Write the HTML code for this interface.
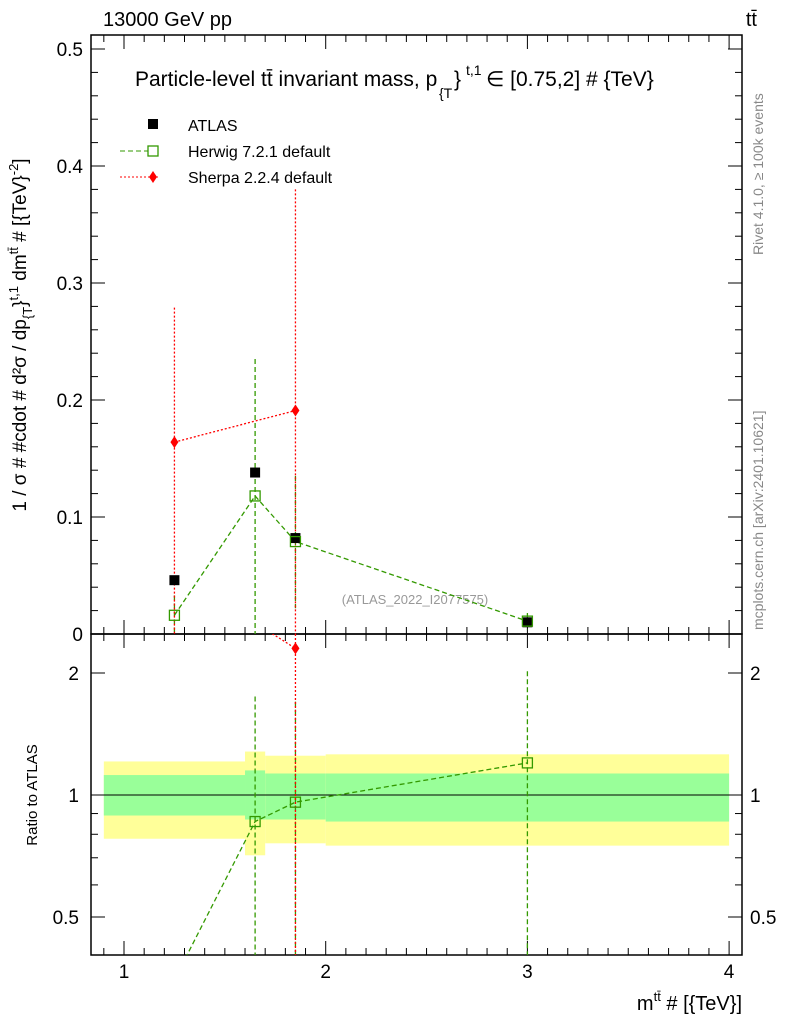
<!DOCTYPE html>
<html><head><meta charset="utf-8"><style>
html,body{margin:0;padding:0;background:#fff;}
svg{display:block;font-family:"Liberation Sans",sans-serif;}
</style></head><body>
<svg id="c" width="786" height="1024" viewBox="0 0 786 1024" xmlns="http://www.w3.org/2000/svg">
<text x="103" y="26" font-size="20">13000 GeV pp</text>
<text x="757" y="26" font-size="20" text-anchor="end">tt̄</text>
<g>
<text x="135" y="86" font-size="21">Particle-level tt̄ invariant mass, p</text>
<text x="439" y="98" font-size="14">{T</text>
<text x="454" y="86" font-size="21">}</text>
<text x="466" y="75" font-size="14">t,1</text>
<text x="486" y="86" font-size="21">∈ [0.75,2] # {TeV}</text>
</g>
<text x="0" y="0" font-size="14" fill="#888" transform="translate(763,255) rotate(-90)">Rivet 4.1.0, ≥ 100k events</text>
<text x="0" y="0" font-size="14" fill="#888" transform="translate(763,630) rotate(-90)">mcplots.cern.ch [arXiv:2401.10621]</text>
<text x="415" y="604" font-size="13" fill="#999" text-anchor="middle">(ATLAS_2022_I2077575)</text>
<text x="0" y="0" font-size="19" text-anchor="middle" transform="translate(26,335) rotate(-90)">1 / σ # #cdot # d²σ / dp<tspan font-size="13" dy="6">{T</tspan><tspan dy="-6">}</tspan><tspan font-size="13" dy="-8">t,1</tspan><tspan dy="8"> dm</tspan><tspan font-size="13" dy="-8">tt̄</tspan><tspan dy="8"> # [{TeV}</tspan><tspan font-size="13" dy="-8">-2</tspan><tspan dy="8">]</tspan></text>
<text x="0" y="0" font-size="15" text-anchor="middle" transform="translate(37,795) rotate(-90)">Ratio to ATLAS</text>
<text x="742" y="1010" font-size="20" text-anchor="end">m<tspan font-size="13" dy="-9">tt̄</tspan><tspan dy="9"> # [{TeV}]</tspan></text>
<g id="g"></g>
</svg>
<script>
const binEdges=[0.9,1.6,1.7,2.0,4.0];
const bandYellowHi=[1.21,1.28,1.25,1.26];
const bandYellowLo=[0.78,0.71,0.76,0.75];
const bandGreenHi=[1.12,1.15,1.13,1.13];
const bandGreenLo=[0.89,0.87,0.87,0.86];
const xVals=[1.25,1.65,1.85,3.0];
const atlas=[0.046,0.138,0.082,0.010];
const herwig=[0.016,0.118,0.079,0.011];
const herwigUp=[0.033,0.235,0.135,0.018];
const herwigDn=[0.0,0.0,0.022,0.004];
const sherpaX=[1.25,1.85];
const sherpa=[0.164,0.191];
const sherpaUp=[0.279,0.38];
const sherpaDn=[0.0,0.0];
const herwigRatio=[0.35,0.86,0.96,1.2];
const herwigRatioUp=[0.35,1.75,1.7,2.02];
const herwigRatioDn=[0.35,0.1,0.1,0.1];
const sherpaRatio=[3.56,2.3];
const sherpaRatioUp=[3.56,6];
const sherpaRatioDn=[3.56,0.1];
const yTicks=[0,0.1,0.2,0.3,0.4,0.5];
const yTickLabels=["0","0.1","0.2","0.3","0.4","0.5"];
const rTicks=[0.5,1,2];
const rTickLabels=["0.5","1","2"];
const xTicks=[1,2,3,4];

const L=91,R=742,T=35,M=634,B=955;
const X=v=>124+(v-1)*201.7;
const Y=v=>634-v*1170;
const RY=r=>795-122*Math.log2(r);
const g=document.getElementById('g');
const NS='http://www.w3.org/2000/svg';
function mk(tag,at,par){const e=document.createElementNS(NS,tag);for(const k in at)e.setAttribute(k,at[k]);(par||g).appendChild(e);return e;}
const cy=v=>Math.max(T,Math.min(M,v));
const cr=v=>Math.max(M,Math.min(B,v));

for(let i=0;i<4;i++){
 let e=mk('rect',{x:X(binEdges[i]),y:RY(bandYellowHi[i]),width:X(binEdges[i+1])-X(binEdges[i]),height:RY(bandYellowLo[i])-RY(bandYellowHi[i]),fill:'#ffff99'});
 
 
 e=mk('rect',{x:X(binEdges[i]),y:RY(bandGreenHi[i]),width:X(binEdges[i+1])-X(binEdges[i]),height:RY(bandGreenLo[i])-RY(bandGreenHi[i]),fill:'#99ff99'});
 
 
}
mk('line',{x1:L,x2:R,y1:RY(1),y2:RY(1),stroke:'#000','stroke-width':1});

let f=mk('rect',{x:L,y:T,width:R-L,height:M-T,fill:'none',stroke:'#000','stroke-width':1.5});


f=mk('rect',{x:L,y:M,width:R-L,height:B-M,fill:'none',stroke:'#000','stroke-width':1.5});



yTicks.forEach((v,i)=>{
 mk('line',{x1:L,x2:L+14,y1:Y(v),y2:Y(v),stroke:'#000'});
 mk('line',{x1:R,x2:R-14,y1:Y(v),y2:Y(v),stroke:'#000'});
 const t=mk('text',{x:L-8,y:Y(v)+7,'font-size':19,'text-anchor':'end'});t.textContent=yTickLabels[i];
 
 
});
for(let v=0.02;v<0.51;v+=0.02){if(Math.abs(v*10-Math.round(v*10))<1e-6)continue;
 mk('line',{x1:L,x2:L+7,y1:Y(v),y2:Y(v),stroke:'#000'});mk('line',{x1:R,x2:R-7,y1:Y(v),y2:Y(v),stroke:'#000'});}
rTicks.forEach((v,i)=>{
 mk('line',{x1:L,x2:L+14,y1:RY(v),y2:RY(v),stroke:'#000'});
 mk('line',{x1:R,x2:R-14,y1:RY(v),y2:RY(v),stroke:'#000'});
 let t=mk('text',{x:L-12,y:RY(v)+7,'font-size':19,'text-anchor':'end'});t.textContent=rTickLabels[i];
 
 
 t=mk('text',{x:R+8,y:RY(v)+7,'font-size':19});t.textContent=rTickLabels[i];
 
 
});
[0.6,0.7,0.8,0.9].forEach(v=>{mk('line',{x1:L,x2:L+7,y1:RY(v),y2:RY(v),stroke:'#000'});mk('line',{x1:R,x2:R-7,y1:RY(v),y2:RY(v),stroke:'#000'});});
for(let v=0.9;v<4.06;v+=0.1){const maj=Math.abs(v-Math.round(v))<1e-6;const len=maj?14:7;
 [T,M].forEach(y0=>mk('line',{x1:X(v),x2:X(v),y1:y0,y2:y0+len,stroke:'#000'}));
 [M,B].forEach(y0=>mk('line',{x1:X(v),x2:X(v),y1:y0,y2:y0-len,stroke:'#000'}));}
xTicks.forEach(v=>{const t=mk('text',{x:X(v),y:978,'font-size':19,'text-anchor':'middle'});t.textContent=String(v);
 
 });

mk('polyline',{points:xVals.map((x,i)=>X(x)+','+Y(herwig[i])).join(' '),fill:'none',stroke:'#339900','stroke-dasharray':'5,3','stroke-width':1.3});
xVals.forEach((x,i)=>{mk('line',{x1:X(x),x2:X(x),y1:cy(Y(herwigUp[i])),y2:cy(Y(herwigDn[i])),stroke:'#339900','stroke-dasharray':'5,3','stroke-width':1.3});});
mk('polyline',{points:sherpaX.map((x,i)=>X(x)+','+Y(sherpa[i])).join(' '),fill:'none',stroke:'#ff0000','stroke-dasharray':'2,2','stroke-width':1.3});
sherpaX.forEach((x,i)=>{mk('line',{x1:X(x),x2:X(x),y1:cy(Y(sherpaUp[i])),y2:cy(Y(sherpaDn[i])),stroke:'#ff0000','stroke-dasharray':'2,2','stroke-width':1.3});});
xVals.forEach((x,i)=>{const e=mk('rect',{x:X(x)-5,y:Y(atlas[i])-5,width:10,height:10,fill:'#000'});
 
 });
xVals.forEach((x,i)=>{const e=mk('rect',{x:X(x)-5,y:Y(herwig[i])-5,width:10,height:10,fill:'none',stroke:'#339900','stroke-width':1.3});
 
 });
sherpaX.forEach((x,i)=>{const cx=X(x),c=Y(sherpa[i]);const e=mk('polygon',{points:`${cx},${c-6} ${cx+4},${c} ${cx},${c+6} ${cx-4},${c}`,fill:'#ff0000'});
 
 });

const cp=mk('clipPath',{id:'rc'});mk('rect',{x:L,y:M,width:R-L,height:B-M},cp);
const rg=mk('g',{'clip-path':'url(#rc)'});
mk('polyline',{points:xVals.map((x,i)=>X(x)+','+RY(herwigRatio[i])).join(' '),fill:'none',stroke:'#339900','stroke-dasharray':'5,3','stroke-width':1.3},rg);
xVals.forEach((x,i)=>{if(herwigRatioUp[i]===herwigRatioDn[i])return;mk('line',{x1:X(x),x2:X(x),y1:cr(RY(herwigRatioUp[i])),y2:cr(RY(herwigRatioDn[i])),stroke:'#339900','stroke-dasharray':'5,3','stroke-width':1.3},rg);});
mk('polyline',{points:sherpaX.map((x,i)=>X(x)+','+RY(sherpaRatio[i])).join(' '),fill:'none',stroke:'#ff0000','stroke-dasharray':'2,2','stroke-width':1.3},rg);
sherpaX.forEach((x,i)=>{if(sherpaRatioUp[i]===sherpaRatioDn[i])return;mk('line',{x1:X(x),x2:X(x),y1:cr(RY(sherpaRatioUp[i])),y2:cr(RY(sherpaRatioDn[i])),stroke:'#ff0000','stroke-dasharray':'2,2','stroke-width':1.3},rg);});
xVals.forEach((x,i)=>{const e=mk('rect',{x:X(x)-5,y:RY(herwigRatio[i])-5,width:10,height:10,fill:'none',stroke:'#339900','stroke-width':1.3},rg);
 
 });
sherpaX.forEach((x,i)=>{const cx=X(x),c=RY(sherpaRatio[i]);const e=mk('polygon',{points:`${cx},${c-6} ${cx+4},${c} ${cx},${c+6} ${cx-4},${c}`,fill:'#ff0000'},rg);
 
 });

const lg=mk('g',{});


mk('rect',{x:148,y:119,width:10,height:10,fill:'#000'},lg);
mk('line',{x1:120,x2:158,y1:151,y2:151,stroke:'#339900','stroke-dasharray':'5,3'},lg);
mk('rect',{x:148,y:146,width:10,height:10,fill:'#fff',stroke:'#339900','stroke-width':1.3},lg);
mk('line',{x1:120,x2:158,y1:177,y2:177,stroke:'#ff0000','stroke-dasharray':'2,2'},lg);
mk('polygon',{points:'153,171 157,177 153,183 149,177',fill:'#ff0000'},lg);
[['ATLAS',131],['Herwig 7.2.1 default',157],['Sherpa 2.2.4 default',183]].forEach(([s,y])=>{const t=mk('text',{x:188,y:y,'font-size':16},lg);t.textContent=s;
 
 });
</script>
</body></html>
